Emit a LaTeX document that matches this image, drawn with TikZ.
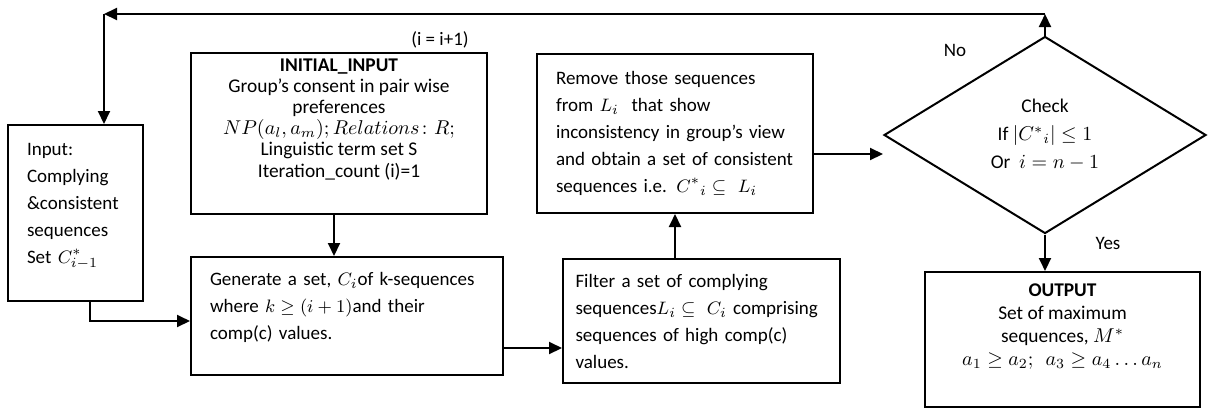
\documentclass[tikz,border=0pt]{standalone}
\usepackage{amsmath,amssymb}
\usepackage{fontspec}
\setmainfont{Carlito}
\usepackage{tikz}
\usetikzlibrary{shapes.geometric, arrows.meta, calc}

\begin{document}
\begin{tikzpicture}[
    x=0.5pt, y=-0.5pt,
    every node/.style={font=\fontsize{9.5}{13.5}\selectfont},
    box/.style={rectangle, draw=black, line width=1pt, inner sep=0pt},
    textbox/.style={box, align=left, inner xsep=9.5pt},
    titlebox/.style={box, align=center, font=\fontsize{9.7}{10.6}\selectfont},
    decision/.style={diamond, draw=black, line width=1pt, inner sep=0pt, align=center, font=\fontsize{9.7}{14}\selectfont},
    arrow/.style={-{Triangle[length=6.5pt,width=6pt]}, line width=1pt},
    lbl/.style={font=\fontsize{9.5}{11}\selectfont}
]
\useasboundingbox (0,0) rectangle (1208,408);

% Left column: input of previous iteration
\node[textbox, text width=48.5pt, minimum width=67.5pt, minimum height=88pt] (inp) at (75.5,213)
  {Input:\\Complying\\\&consistent\\sequences\\Set $C^*_{i-1}$\\[-3.5pt]\mbox{}};

% Middle-left: initial input and generation
\node[titlebox, minimum width=148pt, minimum height=80.5pt] (init) at (339,133.5)
  {\textbf{INITIAL\_INPUT}\\Group’s consent in pair wise\\preferences\\$NP(a_l,a_m); Relations\colon R;$\\Linguistic term set S\\Iteration\_count (i)=1\\[5pt]\mbox{}};

\node[textbox, text width=137pt, minimum width=156pt, minimum height=59pt] (gen) at (347,316)
  {Generate a set, $C_i$of k-sequences\\where $k \geq (i+1)$and their\\comp(c) values.\\[-3.5pt]\mbox{}};

% Middle-right: filtering and removing
\node[textbox, inner xsep=6.25pt, text width=126pt, minimum width=138.5pt, minimum height=62pt] (filter) at (701.5,321)
  {Filter a set of complying\\sequences$L_i \subseteq\ C_i$ comprising\\sequences of high comp(c)\\values.};

\node[textbox, text width=119pt, minimum width=138pt, minimum height=79.5pt] (remove) at (675,133.5)
  {Remove those sequences\\from $L_i$\ \ that show\\inconsistency in group’s view\\and obtain a set of consistent\\sequences i.e. ${C^*}_i \subseteq\ L_i$};

% Right column: check and output
\node[decision, minimum width=161pt, minimum height=98.5pt] (check) at (1045,135)
  {Check\\If $|{C^*}_i| \leq 1$\\Or\ \ $i = n-1$};

\node[titlebox, font=\fontsize{9.7}{11.5}\selectfont, minimum width=137.5pt, minimum height=67.5pt] (out) at (1062.5,339.5)
  {\textbf{OUTPUT}\\Set of maximum\\sequences, $M^*$\\$a_1 \geq a_2;\ \ a_3 \geq a_4 \ldots a_n$\\[3pt]\mbox{}};

% Labels
\node[lbl] (incr) at (440,40) {(i = i+1)};
\node[lbl] (no) at (955,50) {No};
\node[lbl] (yes) at (1108,243) {Yes};

% Loop back
\coordinate (loopR) at (1045,14);
\coordinate (loopL) at (104,14);
\draw[arrow] (check.north) -- (loopR);
\draw[arrow] (loopR) -- (loopL);
\draw[arrow] (loopL) -- (loopL |- inp.north);

% Main flow
\coordinate (inpout) at ($(inp.south)+(14.5,0)$);
\coordinate (genin) at ($(gen.west)+(0,5)$);
\draw[arrow] (inpout) |- (genin);

\coordinate (initout) at ($(init.south)+(-5,0)$);
\draw[arrow] (initout) -- (initout |- gen.north);

\coordinate (gf) at ($(filter.west)+(0,27)$);
\draw[arrow] (gen.east |- gf) -- (gf);

\draw[arrow] (remove.south |- filter.north) -- (remove.south);

\coordinate (rc) at ($(remove.east)+(0,20.5)$);
\draw[arrow] (rc) -- (rc -| check.west);

\draw[arrow] (check.south) -- (check.south |- out.north);

\end{tikzpicture}
\end{document}
